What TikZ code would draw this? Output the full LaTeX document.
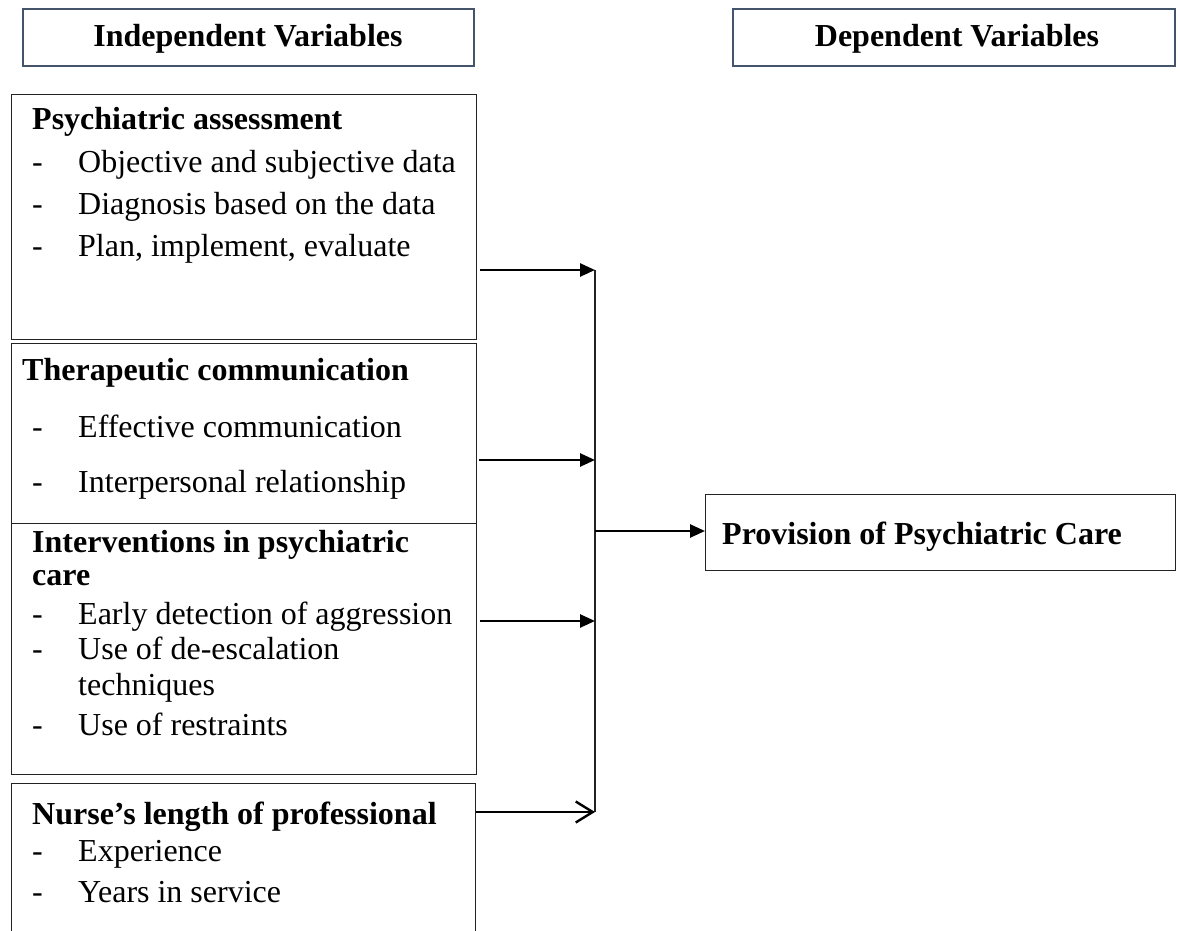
\documentclass[tikz,border=0pt]{standalone}
\usepackage{fontspec}
\setmainfont{Liberation Serif}
\usetikzlibrary{arrows.meta}
\definecolor{hdr}{RGB}{68,84,106}
\definecolor{bx}{RGB}{35,35,35}
\begin{document}
\begin{tikzpicture}[x=1pt,y=-1pt,
  hbox/.style={draw=hdr, line width=2pt, fill=white, anchor=north west, inner sep=0pt},
  lbox/.style={draw=bx, line width=1.3pt, anchor=north west, inner sep=0pt},
  txt/.style={anchor=base west, inner sep=0pt, font=\fontsize{32}{42}\selectfont},
  ttl/.style={anchor=base west, inner sep=0pt, font=\fontsize{32}{42}\selectfont\bfseries},
  htxt/.style={anchor=base, inner sep=0pt, font=\fontsize{32}{42}\selectfont\bfseries},
  arr/.style={line width=2.6pt, -{Triangle[length=15pt,width=13pt]}},
  arrop/.style={line width=2.4pt, -{Straight Barb[length=17pt,width=21pt,line width=2.4pt]}},
  bus/.style={line width=1.3pt, draw=bx}]
\clip (0,0) rectangle (1180,931);
\fill[white] (0,0) rectangle (1180,931);

% header boxes
\node[hbox, minimum width=451pt, minimum height=57pt] (hl) at (22,8) {};
\node[htxt] (hlt) at (248,47) {Independent Variables};
\node[hbox, minimum width=442pt, minimum height=57pt] (hr) at (732,8) {};
\node[htxt] (hrt) at (957,47) {Dependent Variables};

% left boxes
\node[lbox, minimum width=465pt, minimum height=245pt] (b1) at (11,94) {};
\node[lbox, minimum width=465pt, minimum height=180pt] (b2) at (11,343) {};
\node[lbox, minimum width=465pt, minimum height=251pt] (b3) at (11,523) {};
\node[lbox, minimum width=464pt, minimum height=170pt] (b4) at (11,783) {};

% box 1 text
\node[ttl] (t1) at (32,130) {Psychiatric assessment};
\node[txt] (d11) at (32,172) {-};
\node[txt] (i11) at (78,172) {Objective and subjective data};
\node[txt] (d12) at (32,214) {-};
\node[txt] (i12) at (78,214) {Diagnosis based on the data};
\node[txt] (d13) at (32,256) {-};
\node[txt] (i13) at (78,256) {Plan, implement, evaluate};

% box 2 text
\node[ttl] (t2) at (22,380) {Therapeutic communication};
\node[txt] (d21) at (32,437) {-};
\node[txt] (i21) at (78,437) {Effective communication};
\node[txt] (d22) at (32,492) {-};
\node[txt] (i22) at (78,492) {Interpersonal relationship};

% box 3 text
\node[ttl] (t3a) at (32,552) {Interventions in psychiatric};
\node[ttl] (t3b) at (32,585) {care};
\node[txt] (d31) at (32,624) {-};
\node[txt] (i31) at (78,624) {Early detection of aggression};
\node[txt] (d32) at (32,659) {-};
\node[txt] (i32) at (78,659) {Use of de-escalation};
\node[txt] (i32b) at (78,695) {techniques};
\node[txt] (d33) at (32,735) {-};
\node[txt] (i33) at (78,735) {Use of restraints};

% box 4 text
\node[ttl] (t4) at (32,824) {Nurse’s length of professional};
\node[txt] (d41) at (32,861) {-};
\node[txt] (i41) at (78,861) {Experience};
\node[txt] (d42) at (32,902) {-};
\node[txt] (i42) at (78,902) {Years in service};

% dependent box
\node[lbox, minimum width=470pt, minimum height=76pt] (pv) at (705,494) {};
\node[ttl] (pvt) at (722,544) {Provision of Psychiatric Care};

% bus
\coordinate (j1) at (595,270);
\coordinate (j2) at (595,460);
\coordinate (jm) at (595,531);
\coordinate (j3) at (595,621);
\coordinate (j4) at (595,812);
\draw[bus] (j1) -- (j4);

\draw[arr, shorten <=3pt] (b1.east |- j1) -- (j1);
\draw[arr, shorten <=2pt] (b2.east |- j2) -- (j2);
\draw[arr, shorten <=3pt] (b3.east |- j3) -- (j3);
\draw[arrop] (b4.east |- j4) -- (j4);
\draw[arr] (jm) -- (pv.west |- jm);
\end{tikzpicture}
\end{document}
